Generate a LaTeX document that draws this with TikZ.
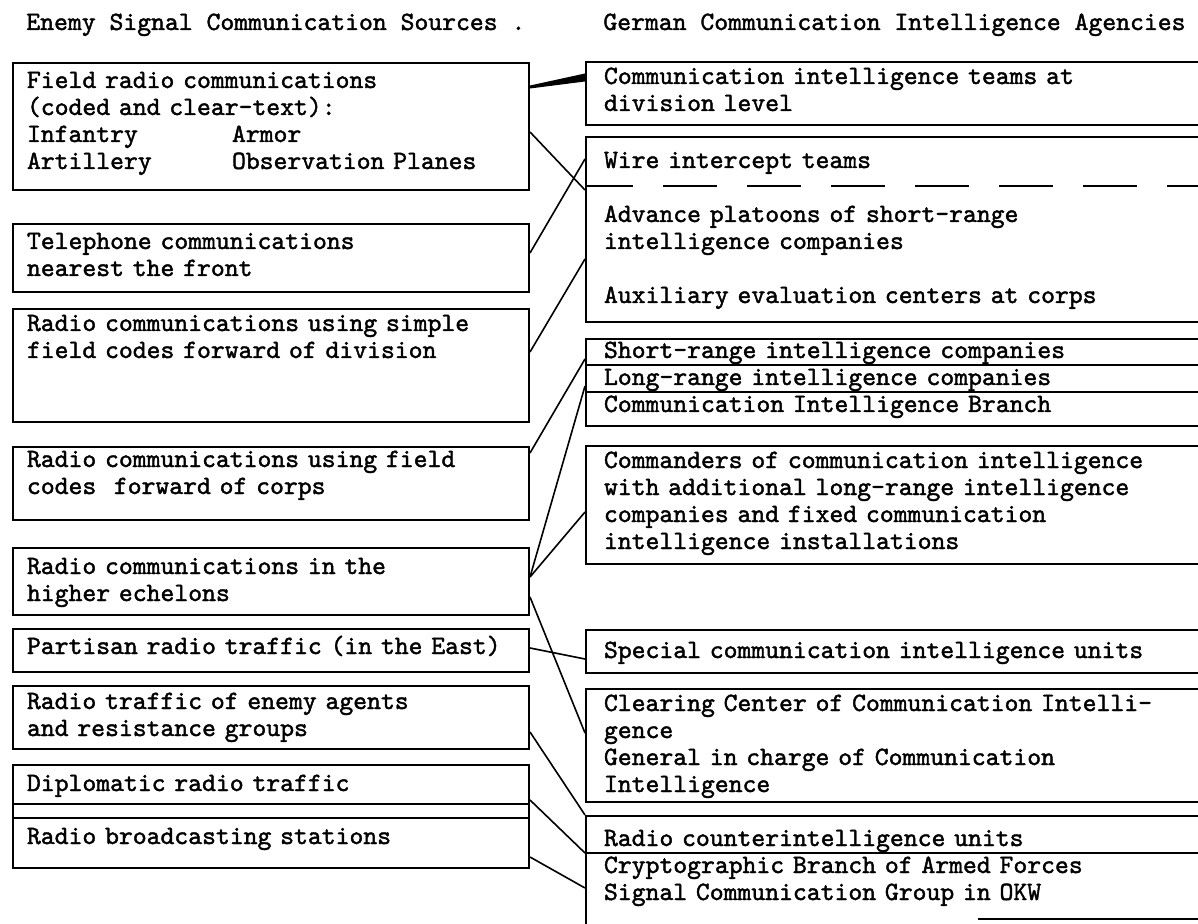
\documentclass[tikz,border=0pt]{standalone}
\usepackage{fontspec}
\newfontfamily\twfont{lmmono10-regular.otf}[FakeBold=1.6]
\begin{document}
\begin{tikzpicture}[x=0.5pt,y=-0.5pt]
\tikzset{
    box/.style={draw, line width=1pt, anchor=north west, align=left, inner ysep=0pt, font=\tw},
    src/.style={box, text width=244pt, inner xsep=7pt},
    agc/.style={box, text width=294.5pt, inner xsep=9pt},
    head/.style={anchor=base west, inner sep=0pt, font=\tw},
    link/.style={line width=0.8pt},
    rule/.style={line width=1pt},
    dashrule/.style={line width=1.3pt, dash pattern=on 27pt off 15pt, dash phase=3pt}}
\def\tw{\twfont\fontsize{13.2}{13.5}\selectfont}
\def\col{102.5pt}

\useasboundingbox (0,0) rectangle (1198,924);

\node[head] (tsrc) at (26,30) {Enemy Signal Communication Sources .};
\node[head] (tagc) at (603,30) {German Communication Intelligence Agencies};

\node[src, text height=12.5pt, text depth=51pt] (s1) at (12,62) {Field radio communications\\(coded and clear-text):\\\makebox[\col][l]{Infantry}Armor\\\makebox[\col][l]{Artillery}Observation Planes};
\node[src, text height=12.5pt, text depth=21.5pt] (s2) at (12,223) {Telephone communications\\nearest the front};
\node[src, text height=11pt, text depth=45.5pt] (s3) at (12,308) {Radio communications using simple\\field codes forward of division};
\node[src, text height=10pt, text depth=26.5pt] (s4) at (12,446) {Radio communications using field\\codes\ \ forward of corps};
\node[src, text height=13pt, text depth=20.5pt] (s5) at (12,547) {Radio communications in the\\higher echelons};
\node[src, text height=12.5pt, text depth=9pt] (s6) at (12,628) {Partisan radio traffic (in the East)};
\node[src, text height=11.5pt, text depth=20pt] (s7) at (12,685) {Radio traffic of enemy agents\\and resistance groups};
\node[src, text height=13pt, text depth=13.5pt] (s8) at (12,764) {Diplomatic radio traffic};
\node[src, text height=13pt, text depth=12pt] (s9) at (12,817) {Radio broadcasting stations};

\draw[rule] (s8.west|-0,804) -- (s8.east|-0,804);

\node[agc, text height=11pt, text depth=20.5pt] (g1) at (585,61) {Communication intelligence teams at\\division level};
\node[agc, text height=15.5pt, text depth=77pt] (g2) at (585,136) {Wire intercept teams\\[13.5pt]Advance platoons of short-range\\intelligence companies\\[13.5pt]Auxiliary evaluation centers at corps};
\node[agc, text height=9.5pt, text depth=34pt] (g3) at (585,338) {Short-range intelligence companies\\Long-range intelligence companies\\Communication Intelligence Branch};
\node[agc, text height=11pt, text depth=48pt] (g4) at (585,445) {Commanders of communication intelligence\\with additional long-range intelligence\\companies and fixed communication\\intelligence installations};
\node[agc, text height=14pt, text depth=7.5pt] (g5) at (585,629) {Special communication intelligence units};
\node[agc, text height=11pt, text depth=45.5pt] (g6) at (585,688) {Clearing Center of Communication Intelli-\\gence\\General in charge of Communication\\Intelligence};
\node[agc, text height=15pt, text depth=45pt] (g7) at (585,815) {Radio counterintelligence units\\Cryptographic Branch of Armed Forces\\Signal Communication Group in OKW};

\draw[dashrule] (g2.west|-0,186) -- (g2.east|-0,186);
\draw[rule] (g3.west|-0,365) -- (g3.east|-0,365);
\draw[rule] (g3.west|-0,392) -- (g3.east|-0,392);
\draw[rule] (g7.west|-0,853) -- (g7.east|-0,853);
\draw[rule] (978,919) -- (1210,919);

\fill (s1.east|-0,85.5) -- (g1.west|-0,73.5) -- (g1.west|-0,81.5) -- (s1.east|-0,88.5) -- cycle;
\draw[link] (s1.east|-0,132) -- (g2.west|-0,190);
\draw[link] (s2.east|-0,253) -- (g2.west|-0,159);
\draw[link] (s3.east|-0,352) -- (g2.west|-0,259);
\draw[link] (s4.east|-0,453) -- (g3.west|-0,359);
\draw[link] (s5.east|-0,577) -- (g3.west|-0,386);
\draw[link] (s5.east|-0,577) -- (g4.west|-0,512);
\draw[link] (s5.east|-0,597) -- (g6.west|-0,733);
\draw[link] (s6.east|-0,648) -- (g5.west|-0,659);
\draw[link] (s7.east|-0,732) -- (g7.north west);
\draw[link] (s8.east|-0,800) -- (g7.west|-0,853);
\draw[link] (s9.east|-0,857) -- (g7.west|-0,888);

\end{tikzpicture}
\end{document}
